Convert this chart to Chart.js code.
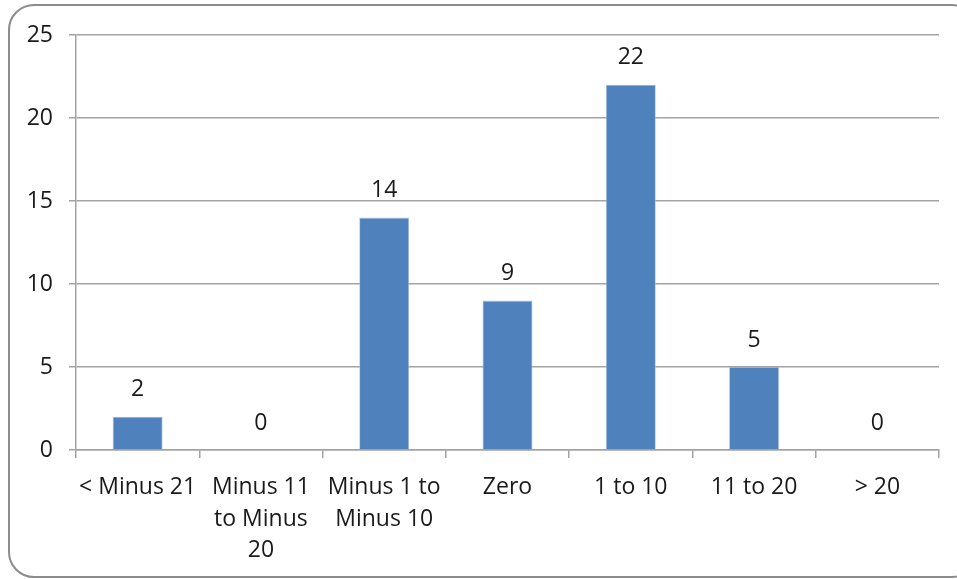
<!DOCTYPE html>
<html>
<head>
<meta charset="utf-8">
<script src="https://cdn.jsdelivr.net/npm/chart.js@4/dist/chart.umd.min.js"></script>
<style>
  html, body { margin: 0; padding: 0; background: #ffffff; overflow: hidden; }
  #wrap { position: relative; width: 957px; height: 579px; }
  #frame {
    position: absolute; left: 8px; top: 4px; width: 970px; height: 574px;
    border: 2px solid #8c8c8c; border-radius: 26px; box-sizing: border-box;
  }
  canvas { position: absolute; left: 0; top: 0; }
</style>
</head>
<body>
<div id="wrap">
  <div id="frame"></div>
  <canvas id="c" width="957" height="579"></canvas>
</div>
<script>
// Distribution of change buckets
const categories = [
  '< Minus 21',
  ['Minus 11', 'to Minus', '20'],
  ['Minus 1 to', 'Minus 10'],
  'Zero',
  '1 to 10',
  '11 to 20',
  '> 20'
];
const counts = [2, 0, 14, 9, 22, 5, 0];
const yTicks = [0, 5, 10, 15, 20, 25];

const FONT = "'Open Sans', 'Liberation Sans', Arial, sans-serif";
const TEXT = '#1a1a1a';
const GRID = '#a3a3a3';

// Writes each bar's value above it
const valueLabels = {
  id: 'valueLabels',
  afterDatasetsDraw(chart) {
    const ctx = chart.ctx;
    const meta = chart.getDatasetMeta(0);
    ctx.save();
    ctx.font = '23px ' + FONT;
    ctx.fillStyle = TEXT;
    ctx.textAlign = 'center';
    ctx.textBaseline = 'middle';
    meta.data.forEach((bar, i) => {
      ctx.fillText(String(counts[i]), bar.x, bar.y - 27);
    });
    ctx.restore();
  }
};

new Chart(document.getElementById('c'), {
  type: 'bar',
  data: {
    labels: categories,
    datasets: [{
      data: counts,
      backgroundColor: '#4f81bd',
      borderColor: '#a9c2e2',
      borderWidth: 0.8,
      categoryPercentage: 1,
      barPercentage: 0.405
    }]
  },
  options: {
    responsive: false,
    animation: false,
    devicePixelRatio: 1,
    layout: { padding: { top: 35, right: 18, left: 0, bottom: 0 } },
    plugins: {
      legend: { display: false },
      tooltip: { enabled: false }
    },
    scales: {
      x: {
        afterFit(scale) { scale.height = 129; },
        grid: {
          offset: true,
          drawOnChartArea: false,
          drawTicks: true,
          tickLength: 8,
          color: GRID,
          lineWidth: 1.5
        },
        border: { color: GRID, width: 1.5 },
        ticks: {
          color: TEXT,
          font: { family: FONT, size: 23, lineHeight: 1.37 },
          maxRotation: 0,
          autoSkip: false,
          padding: 14
        }
      },
      y: {
        min: 0,
        max: 25,
        afterFit(scale) { scale.width = 76; },
        afterBuildTicks(scale) { scale.ticks = yTicks.map(v => ({ value: v })); },
        grid: {
          color: GRID,
          lineWidth: 1.5,
          drawTicks: true,
          tickLength: 7
        },
        border: { color: GRID, width: 1.5 },
        ticks: {
          color: TEXT,
          font: { family: FONT, size: 23 },
          padding: 16
        }
      }
    }
  },
  plugins: [valueLabels]
});
</script>
</body>
</html>
